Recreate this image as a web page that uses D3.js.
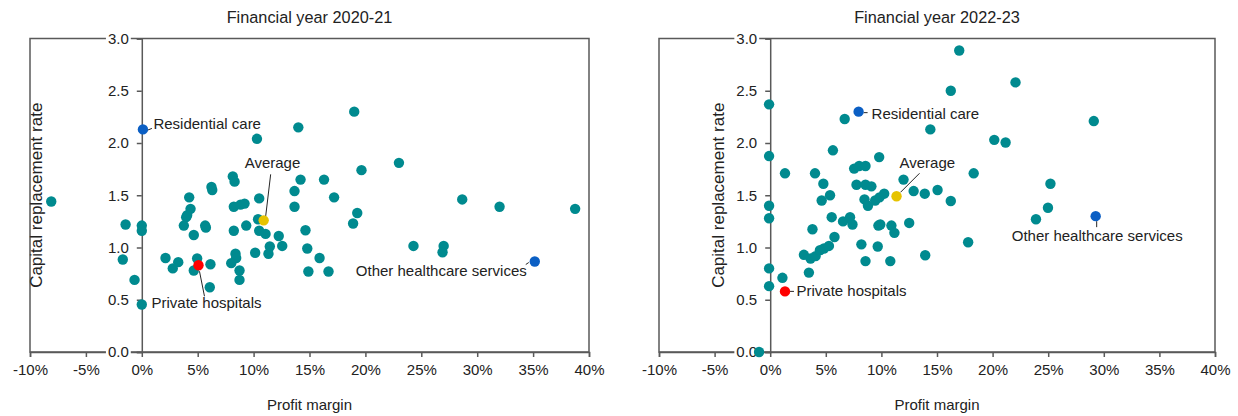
<!DOCTYPE html>
<html>
<head>
<meta charset="utf-8">
<script src="https://cdn.jsdelivr.net/npm/d3@7"></script>
<style>
  body { margin: 0; background: #fff; }
  svg { font-family: "Liberation Sans", Arial, sans-serif; }
</style>
</head>
<body>
<svg id="chart"></svg>
<script>
const width = 1238;
const height = 416;

const xTicks = [-10, -5, 0, 5, 10, 15, 20, 25, 30, 35, 40];
const yTicks = [0, 0.5, 1, 1.5, 2, 2.5, 3];
const panelTitles = ["Financial year 2020-21", "Financial year 2022-23"];

// 2020-21: profit margin (%) and capital replacement rate
const fy21Margin = [-8.1, -1.45, -1.7, -0.65, 0, 0, 0,
  10.3, 14.0, 19.0, 8.14, 8.3, 6.23, 6.3, 4.24, 4.36, 3.97, 4.06, 3.76, 4.65, 5.67, 5.73,
  8.23, 8.83, 9.19, 10.5, 9.34, 8.23, 10.5, 11.07, 10.4, 12.25, 12.56, 11.45, 11.33, 10.14,
  8.38, 8.44, 8.0, 8.74, 8.74, 2.12, 3.26, 2.77, 4.95, 4.65, 6.14, 6.08,
  23.0, 19.65, 14.2, 16.3, 13.66, 17.2, 13.66, 19.27, 18.9, 14.64, 14.8, 15.9, 14.9, 16.7,
  24.3, 27.0, 26.9, 28.66, 32.0, 38.76];
const fy21Rate = [1.44, 1.22, 0.885, 0.69, 1.21, 1.16, 0.455,
  2.04, 2.15, 2.30, 1.68, 1.63, 1.58, 1.55, 1.48, 1.37, 1.29, 1.31, 1.21, 1.12, 1.21, 1.19,
  1.39, 1.41, 1.42, 1.47, 1.21, 1.16, 1.16, 1.13, 1.27, 1.11, 1.015, 1.01, 0.94, 0.95,
  0.94, 0.90, 0.85, 0.78, 0.69, 0.90, 0.86, 0.80, 0.895, 0.78, 0.84, 0.62,
  1.81, 1.74, 1.65, 1.65, 1.54, 1.48, 1.39, 1.33, 1.23, 1.165, 0.99, 0.90, 0.77, 0.77,
  1.015, 1.015, 0.955, 1.46, 1.39, 1.37];

// 2022-23
const fy23Margin = [-1.0, -0.1, -0.1, -0.1, -0.1, -0.1, -0.1, 1.1, 6.7, 5.64, 9.8,
  7.55, 8.0, 8.57, 1.33, 4.03, 4.78, 7.76, 8.57, 9.1, 11.99, 12.9, 13.9, 4.63, 5.38,
  8.48, 8.79, 9.44, 9.83, 10.25, 5.53, 6.55, 7.18, 7.4, 9.73, 9.9, 10.9, 11.17, 12.5,
  3.8, 5.78, 3.03, 3.63, 4.08, 4.47, 4.83, 5.28, 8.2, 9.67, 8.57, 10.8, 3.48, 13.94,
  17.0, 22.06, 16.24, 14.4, 29.1, 20.15, 21.17, 18.3, 15.05, 16.24, 25.2, 24.98, 23.9, 17.8];
const fy23Rate = [0.0, 2.37, 1.875, 1.40, 1.28, 0.80, 0.63, 0.71, 2.23, 1.93, 1.865,
  1.755, 1.78, 1.78, 1.71, 1.71, 1.61, 1.60, 1.60, 1.585, 1.65, 1.54, 1.515, 1.45, 1.50,
  1.46, 1.40, 1.45, 1.48, 1.515, 1.29, 1.25, 1.29, 1.22, 1.21, 1.22, 1.21, 1.14, 1.235,
  1.175, 1.10, 0.93, 0.895, 0.917, 0.974, 0.99, 1.015, 1.03, 1.01, 0.87, 0.87, 0.76, 0.926,
  2.885, 2.58, 2.50, 2.13, 2.21, 2.03, 2.005, 1.71, 1.55, 1.445, 1.61, 1.38, 1.27, 1.05];

// highlighted series
const highlightNames = ["Residential care", "Average", "Private hospitals", "Other healthcare services"];
const highlightColors = ["#0b5fc4", "#e6c300", "#ff0000", "#0b5fc4"];
const fy21HighMargin = [0.1, 10.9, 5.07, 35.15];
const fy21HighRate = [2.13, 1.26, 0.83, 0.866];
const fy23HighMargin = [7.95, 11.36, 1.33, 29.27];
const fy23HighRate = [2.30, 1.49, 0.58, 1.30];

const teal = "#008a8f";
const axisColor = "#595959";
const textColor = "#222";

const svg = d3.select("#chart")
  .attr("width", width)
  .attr("height", height);

// label placement for each highlight: text offset from the dot and leader line ends
const layouts = [
  [
    { dx: 10.5, dy: -0.5, anchor: "start", line: [[4, 1], [9, -1]] },
    { dx: -19, dy: -52, anchor: "start", line: [[2, -4], [7, -46]] },
    { dx: -47, dy: 43, anchor: "start", line: [[1, 6], [6, 31]] },
    { dx: -8, dy: 14, anchor: "end", line: [[-6, 1], [-9, 3]] }
  ],
  [
    { dx: 13, dy: 7, anchor: "start", line: [[5, 1], [9, 1]] },
    { dx: 3, dy: -28.5, anchor: "start", line: [[4, -4], [23, -23]] },
    { dx: 11.5, dy: 5, anchor: "start", line: [[5, 0], [9, 0]] },
    { dx: 1.5, dy: 24.5, anchor: "middle", line: [[1, 5], [1, 11]] }
  ]
];

const panels = [
  { left: 30, right: 589, title: panelTitles[0], mx: fy21Margin, ry: fy21Rate, hx: fy21HighMargin, hy: fy21HighRate, yTitleX: 36, layout: layouts[0] },
  { left: 659, right: 1215, title: panelTitles[1], mx: fy23Margin, ry: fy23Rate, hx: fy23HighMargin, hy: fy23HighRate, yTitleX: 718, layout: layouts[1] }
];

const plotTop = 38.5;
const plotBottom = 352;

panels.forEach(p => {
  const x = d3.scaleLinear().domain([-10, 40]).range([p.left, p.right]);
  const y = d3.scaleLinear().domain([0, 3]).range([plotBottom, plotTop]);
  const g = svg.append("g");

  // frame
  g.append("rect")
    .attr("x", p.left).attr("y", plotTop)
    .attr("width", p.right - p.left).attr("height", plotBottom - plotTop)
    .attr("fill", "none").attr("stroke", axisColor).attr("stroke-width", 1.5);

  // x axis
  const xAxis = g.append("g")
    .attr("transform", `translate(0,${plotBottom})`)
    .call(d3.axisBottom(x).tickValues(xTicks).tickSize(5).tickPadding(7)
      .tickFormat(d => d + "%"));
  xAxis.select(".domain").attr("stroke", axisColor).attr("stroke-width", 1.5);
  xAxis.selectAll(".tick line").attr("stroke", axisColor).attr("stroke-width", 1.5);
  xAxis.selectAll(".tick text")
    .attr("fill", textColor).style("font-size", "15px")
    .attr("font-family", "Liberation Sans, Arial, sans-serif");

  // y axis sits at 0%
  const yAxis = g.append("g")
    .attr("transform", `translate(${x(0)},0)`)
    .call(d3.axisLeft(y).tickValues(yTicks).tickSize(5).tickPadding(8)
      .tickFormat(d3.format(".1f")));
  yAxis.select(".domain").attr("stroke", axisColor).attr("stroke-width", 1.5);
  yAxis.selectAll(".tick line").attr("stroke", axisColor).attr("stroke-width", 1.5);
  yAxis.selectAll(".tick text")
    .attr("fill", textColor).style("font-size", "15px")
    .attr("font-family", "Liberation Sans, Arial, sans-serif");
  // white backing behind y labels so the frame is broken there
  yAxis.selectAll(".tick").each(function () {
    const t = d3.select(this).select("text");
    const bb = t.node().getBBox();
    d3.select(this).insert("rect", "text")
      .attr("x", bb.x - 2).attr("y", bb.y + 2)
      .attr("width", bb.width + 4).attr("height", bb.height - 4)
      .attr("fill", "#fff");
  });

  // titles
  g.append("text")
    .attr("x", (p.left + p.right) / 2).attr("y", 23)
    .attr("text-anchor", "middle").attr("fill", textColor)
    .style("font-size", "16.3px")
    .text(p.title);
  g.append("text")
    .attr("x", (p.left + p.right) / 2).attr("y", 410)
    .attr("text-anchor", "middle").attr("fill", textColor)
    .style("font-size", "15px")
    .text("Profit margin");
  g.append("text")
    .attr("transform", `translate(${p.yTitleX + 6},${(plotTop + plotBottom) / 2}) rotate(-90)`)
    .attr("text-anchor", "middle").attr("fill", textColor)
    .style("font-size", "17px")
    .text("Capital replacement rate");

  // points
  g.append("g").selectAll("circle")
    .data(p.mx.map((m, i) => [m, p.ry[i]]))
    .enter().append("circle")
    .attr("cx", d => x(d[0]))
    .attr("cy", d => y(d[1]))
    .attr("r", 5.2)
    .attr("fill", teal);

  // highlights with labels
  const hl = highlightNames.map((name, i) => ({
    name, color: highlightColors[i], mx: p.hx[i], ry: p.hy[i], lay: p.layout[i]
  }));

  hl.forEach(d => {
    const cx = x(d.mx), cy = y(d.ry);
    g.append("line")
      .attr("x1", cx + d.lay.line[0][0]).attr("y1", cy + d.lay.line[0][1])
      .attr("x2", cx + d.lay.line[1][0]).attr("y2", cy + d.lay.line[1][1])
      .attr("stroke", "#262626").attr("stroke-width", 1);
    g.append("text")
      .attr("x", cx + d.lay.dx).attr("y", cy + d.lay.dy)
      .attr("text-anchor", d.lay.anchor).attr("fill", textColor)
      .style("font-size", "15px")
      .text(d.name);
  });

  g.append("g").selectAll("circle")
    .data(hl)
    .enter().append("circle")
    .attr("cx", d => x(d.mx))
    .attr("cy", d => y(d.ry))
    .attr("r", 5.2)
    .attr("fill", d => d.color);
});
</script>
</body>
</html>
